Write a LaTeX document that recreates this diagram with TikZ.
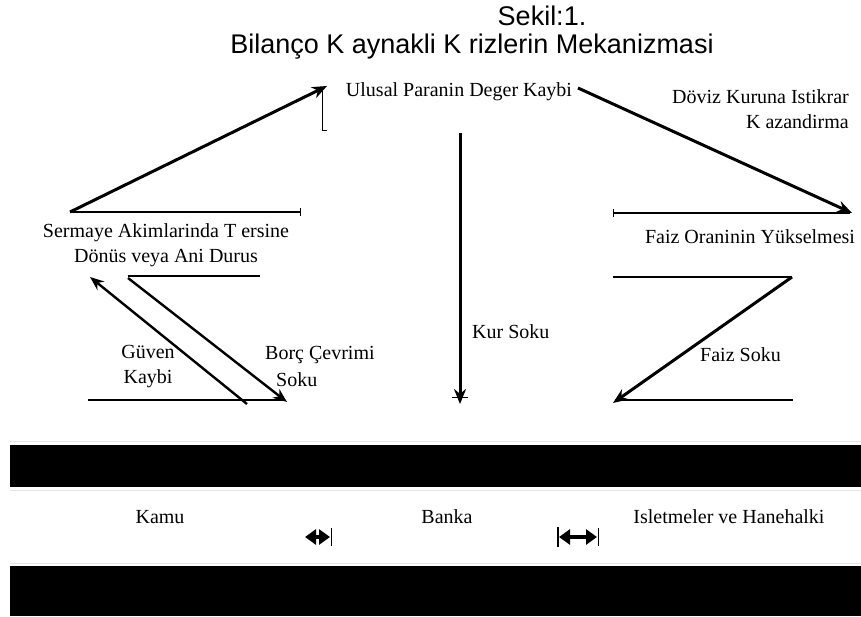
\documentclass[tikz,border=0pt]{standalone}
\usepackage{fontspec}
\setmainfont{Liberation Serif}
\newfontfamily\titlefont{Liberation Sans}
\usetikzlibrary{arrows.meta}
\tikzset{
  lbl/.style={inner sep=0pt, font=\fontsize{20}{25}\selectfont},
  ttl/.style={inner sep=0pt, font=\titlefont\fontsize{27}{30}\selectfont},
  bigarrow/.style={line width=3pt, -{Stealth[length=15pt,width=12pt]}},
  midarrow/.style={line width=2.4pt, -{Stealth[length=14pt,width=11pt]}},
  rule/.style={line width=1.3pt},
  thin/.style={line width=0.8pt},
  band/.style={fill=black, draw=none},
  dbl/.style={line width=4pt, {Triangle[length=11pt,width=15pt]}-{Triangle[length=11pt,width=15pt]}}
}
\begin{document}
\begin{tikzpicture}[x=1pt,y=-1pt]
\useasboundingbox (0,0) rectangle (861,616);
% titles
\node[ttl] (t1) at (542,16) {Sekil:1.};
\node[ttl] (t2) at (472,47) {Bilanço K aynakli K rizlerin Mekanizmasi};
% text nodes
\node[lbl] (ulusal) at (459,92) {Ulusal Paranin Deger Kaybi};
\node[lbl, align=right, anchor=north east] (doviz) at (849,89) {Döviz Kuruna Istikrar\\K azandirma};
\node[lbl, align=center] (sermaye) at (166,245) {Sermaye Akimlarinda T ersine\\Dönüs veya Ani Durus};
\node[lbl] (faizoran) at (750,237) {Faiz Oraninin Yükselmesi};
\node[lbl, anchor=west] (kur) at (472,332) {Kur Soku};
\node[lbl, align=center] (guven) at (148,367) {Güven\\Kaybi};
\node[lbl, anchor=west] (borc1) at (265,355) {Borç Çevrimi};
\node[lbl, anchor=west] (borc2) at (276,380) {Soku};
\node[lbl, anchor=west] (faizsoku) at (700,355) {Faiz Soku};
\node[lbl] (sektor) at (463,457) {Sektörel Bilanço Uyumsuzlugu};
% coordinates
\coordinate (sl) at (70,212);   \coordinate (sr) at (300,212);
\coordinate (ua) at (327,86);
\coordinate (va) at (322,90);   \coordinate (vb) at (322,130); \coordinate (vc) at (327,130);
\coordinate (da) at (578,88);   \coordinate (db) at (852,213);
\coordinate (fl) at (613,213);  \coordinate (fr) at (850,213);
\coordinate (ka) at (460,133);  \coordinate (kb) at (460,404);
\coordinate (k1) at (452,397);  \coordinate (k2) at (468,397);
\coordinate (ml) at (128,276);  \coordinate (mr) at (260,276);
\coordinate (gs) at (247,404);  \coordinate (ge) at (90,277);
\coordinate (bs) at (128,278);  \coordinate (be) at (287,402);
\coordinate (bl) at (88,400);   \coordinate (br) at (285,400);
\coordinate (rl) at (613,277);  \coordinate (rr) at (792,277);
\coordinate (re) at (613,403);
\coordinate (ql) at (615,400);  \coordinate (qr) at (793,400);
% horizontal rules
\draw[rule] (sl) -- (sr);
\draw[thin] (300,208) -- (300,216);
\draw[rule] (ml) -- (mr);
\draw[rule] (bl) -- (br);
\draw[rule] (fl) -- (fr);
\draw[thin] (613,209) -- (613,217);
\draw[rule] (rl) -- (rr);
\draw[rule] (ql) -- (qr);
% arrows
\draw[bigarrow] (sl) -- (ua);
\draw[thin] (va) -- (vb) -- (vc);
\draw[bigarrow] (da) -- (db);
\draw[bigarrow] (ka) -- (kb);
\draw[thin] (k1) -- (k2);
\draw[midarrow] (gs) -- (ge);
\draw[midarrow] (bs) -- (be);
\draw[bigarrow] (rr) -- (re);
% bands
\draw[black!10, line width=1pt] (10,441) -- (861,441);
\fill[band] (10,445) rectangle (861,487);
\draw[black!10, line width=1pt] (10,490) -- (861,490);
\draw[black!10, line width=1pt] (10,563) -- (861,563);
\fill[band] (10,566) rectangle (861,616);
% bottom labels
\node[lbl] (kamu) at (160,517) {Kamu};
\node[lbl] (banka) at (447,517) {Banka};
\node[lbl] (isl) at (729,517) {Isletmeler ve Hanehalki};
\coordinate (d1a) at (305,537); \coordinate (d1b) at (330,537);
\coordinate (d2a) at (559,537); \coordinate (d2b) at (597,537);
\draw[dbl] (d1a) -- (d1b);
\draw[thin] (331,528) -- (331,546);
\draw[dbl] (d2a) -- (d2b);
\draw[line width=1.4pt] (558,527) -- (558,547);
\draw[thin] (598,528) -- (598,546);
\end{tikzpicture}
\end{document}
